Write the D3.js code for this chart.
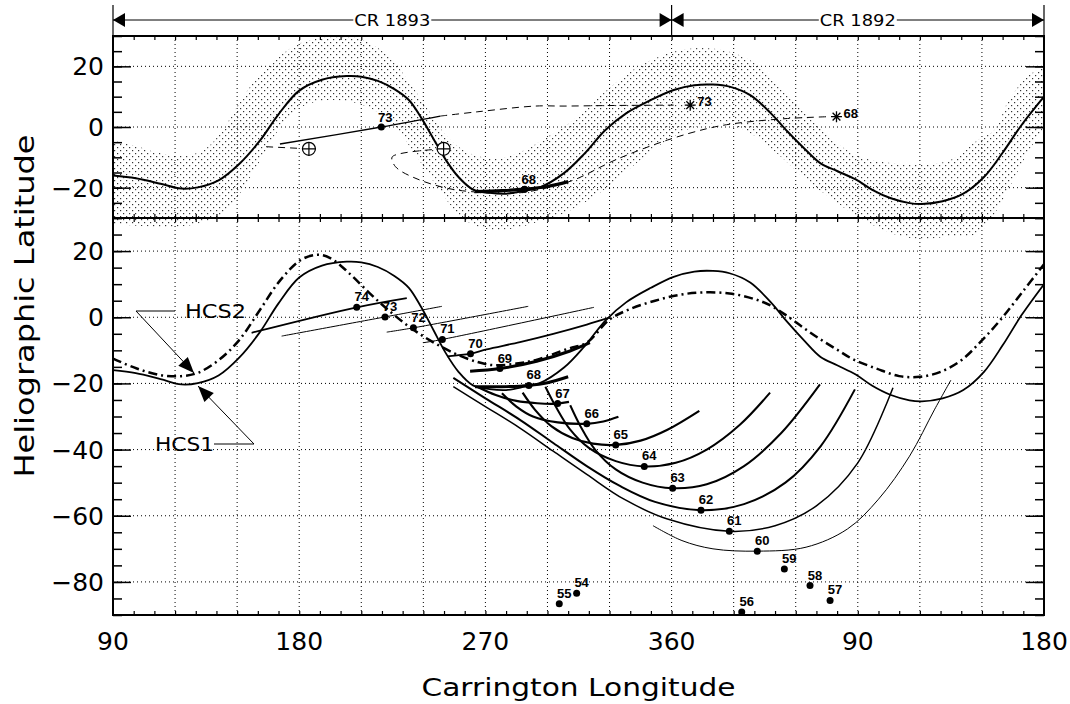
<!DOCTYPE html>
<html><head><meta charset="utf-8">
<script src="https://cdn.jsdelivr.net/npm/d3@7"></script>
<style>
body{margin:0;background:#fff}
text{font-family:"DejaVu Sans",sans-serif;fill:#000}
.num{font-family:"Liberation Sans",Arial,sans-serif;font-weight:bold;font-size:13px}
</style>
</head><body><script>
// longitude runs continuously 90..540 (CR 1893 then CR 1892)
var xTickVals = [90, 180, 270, 360, 450, 540];
var xTickText = ["90", "180", "270", "360", "90", "180"];
var topLatTicks = [20, 0, -20];
var botLatTicks = [20, 0, -20, -40, -60, -80];

// HCS1 (solid) – same trace used in both panels
var hcs1 = [[90,-16],[101,-16.9],[113,-18.7],[123,-20.3],[131,-19.9],[141,-17.6],[151,-12.2],[161,-4.5],[170,4.2],[180,12],[191,15.6],[203,16.8],[210,16.6],[218,15.2],[226,12.5],[233,8.9],[239,3],[245,-4],[251,-11],[257,-16.5],[264,-20.6],[272,-21.7],[280,-22],[289,-21],[296,-20],[308,-15.2],[318,-8.7],[328,-1],[338,4.5],[350,8.9],[361,12.2],[371,13.8],[380,14],[388,13.3],[398,10.5],[408,4.5],[416,-1.5],[424,-7],[432,-12],[440,-14.5],[449,-17.3],[457,-20.7],[466,-23.5],[475,-25.1],[481,-25.4],[491,-24.5],[501,-22],[511,-16.5],[520,-8.5],[529,0.5],[540,10]];
// HCS2 (dash-dot), lower panel
var hcs2 = [[90,-12.5],[101.5,-15.5],[113,-17.5],[123,-17.8],[131,-16.8],[141,-13],[151,-6.9],[161,2.2],[171,11.3],[181,17.4],[189,18.9],[195,17.9],[204,13.4],[214,7.3],[223,2.2],[233,-2.8],[243,-6.9],[255,-10.9],[266,-13.5],[274,-14.5],[285,-14],[295,-12.8],[310,-9.5],[319,-7.7],[330,-0.7],[340,2.5],[352,5],[364,6.8],[375,7.5],[388,7.2],[400,5.5],[408,3.5],[416,0.3],[424,-3.3],[432,-6.7],[440,-9.8],[448,-12.8],[459,-15.5],[470,-17.8],[480,-18],[490,-16.5],[500,-13],[510,-7],[520,0],[530,8],[540,16]];

// stippled uncertainty band, upper panel: [lon, upper, lower]
var bandUpper = [[90,-4.5],[100,-6],[112,-8.5],[125,-9.5],[135,-7],[143,-1],[151,8],[160,16.5],[170,23],[180,27.5],[192,29.5],[207,29.5],[217,26.5],[225,22],[233,15],[242,6],[250,-2],[258,-7],[266,-9.5],[276,-10.5],[289,-7.6],[298,-4],[308,0],[325,10],[341,18.7],[358,24.2],[371,26],[385,25.3],[398,22],[411,14.4],[425,4.5],[438,-4.3],[451,-9.8],[468,-12],[481,-12.5],[495,-10.8],[508,-4.3],[516,-1],[523,8.9],[532,16.6],[540,20]];
var bandLower = [[90,-32],[110,-33],[130,-32.5],[144,-28.4],[154,-19.6],[164,-7.6],[174,3.4],[184,8],[195,9],[207,8],[218,5],[228,-1],[236,-9],[244,-17],[252,-25],[260,-31],[270,-34],[282,-34],[292,-32],[308,-28.4],[325,-21.8],[341,-13],[358,-4.3],[371,0],[385,1.2],[398,-2.1],[411,-8.7],[425,-17.4],[438,-24],[451,-30],[465,-35],[480,-37],[495,-36],[509,-35],[519,-26],[528,-13],[536,-4.3],[540,0]];

// upper panel tracks
var track73 = [[170.7,-5.6],[219.7,0],[248.2,3.6]];
var dash73a = [[164,-6.5],[184.7,-7.2]];
var dash73b = [[248.2,3.6],[266,5],[294,6.9],[308,6.9],[333,7.1],[361,7.2]];
var dash68 = [[249.8,-7.2],[225,-9.8],[225.5,-12],[228,-14],[238,-17.4],[251.5,-20.2],[263,-21.3],[285,-21.8],[300,-20],[313,-17.4],[333,-10.8],[358,-4.3],[378,-0.4],[391,1.2],[416,2.8],[436,3.4]];
var thick68 = [[265,-21.3],[278,-21],[289,-20.5],[300,-19.6],[310,-18]];
var earthPts = [[184.7,-7.2],[249.8,-7.2]];
var starPts = [{label:"73",L:369,lat:7.2},{label:"68",L:439.7,lat:3.4}];
var topDots = [{label:"73",L:219.7,lat:0},{label:"68",L:289,lat:-20.5}];

// lower panel traces: [points, stroke width]
var botLines = [
  {pts:[[157,-4.7],[207.8,3.0],[232,5.8]], w:1.8},
  {pts:[[171.5,-5.7],[221.5,0.1],[249,3.3]], w:1},
  {pts:[[222.3,-4.5],[235.2,-3.2],[290.7,3.3]], w:1},
  {pts:[[240,-7.7],[249.2,-6.7],[322.5,3]], w:1},
  {pts:[[251.5,-11.8],[262.7,-11],[270.6,-9.7],[286.7,-7.5],[302.8,-5],[319,-2.2],[329.5,-0.2]], w:1.8},
  {pts:[[262.6,-16.3],[277,-15.5],[294.8,-13.3],[310.9,-10.2],[320.5,-7.7]], w:3},
  {pts:[[265,-21],[278,-21],[291,-20.6],[300,-19.8],[310,-18]], w:3},
  {pts:[[266,-21],[275,-23.5],[285,-25.3],[295,-26],[304.9,-26.1],[310.4,-25.6]], w:2.2},
  {pts:[[278,-23],[285,-27],[293,-30],[305,-31.8],[319,-32.2],[327,-31.5],[334.3,-30.1]], w:2.2},
  {pts:[[288,-22.8],[294,-28],[302,-33],[312,-36.5],[322,-38.2],[333,-38.6],[345,-37.3],[358,-34],[373.4,-28.3]], w:2.2},
  {pts:[[299,-21],[304,-27],[311,-34],[320,-39.5],[333,-43.5],[346.8,-45.1],[362,-44],[377,-40],[393,-32.5],[407.6,-22.8]], w:2},
  {pts:[[311,-26.6],[316,-33],[323,-40],[333,-46],[346,-50],[360.5,-51.7],[377,-50.5],[395,-45],[413,-35],[431.7,-20.3]], w:2},
  {pts:[[254.5,-18.3],[270,-24.5],[286.7,-31],[302.8,-38],[319,-45],[335,-51],[352,-55.8],[374.2,-58.3],[395,-56.5],[415,-50],[432,-39],[448.6,-21.8]], w:2},
  {pts:[[254.5,-21],[270,-27],[286.7,-33.5],[302.8,-40.5],[319,-47.5],[337,-55],[358,-61],[387.9,-64.7],[410,-63],[430,-57],[450,-44],[467,-21.3]], w:1.5},
  {pts:[[351,-63],[365,-67.5],[380,-70],[401.4,-70.7],[425,-69.5],[445,-64],[460,-55],[475,-42],[487,-28],[495,-19]], w:1}
];
var botDots = [
  {label:"74",L:207.8,lat:3.0},{label:"73",L:221.5,lat:0.1},{label:"72",L:235.2,lat:-3.2},
  {label:"71",L:249.2,lat:-6.7},{label:"70",L:262.8,lat:-11},{label:"69",L:277,lat:-15.5},
  {label:"68",L:291,lat:-20.6},{label:"67",L:304.9,lat:-26.1},{label:"66",L:319,lat:-32.2},
  {label:"65",L:333,lat:-38.6},{label:"64",L:346.8,lat:-45.1},{label:"63",L:360.5,lat:-51.7},
  {label:"62",L:374.2,lat:-58.3},{label:"61",L:387.9,lat:-64.7},{label:"60",L:401.4,lat:-70.7},
  {label:"59",L:414.5,lat:-76.1},{label:"58",L:426.9,lat:-81.1},{label:"57",L:436.6,lat:-85.6},
  {label:"56",L:393.9,lat:-89.1},{label:"55",L:305.7,lat:-86.6},{label:"54",L:314.1,lat:-83.4}
];

var W = 1070, H = 704;
var x = d3.scaleLinear().domain([90, 540]).range([113, 1044]);
var yTop = d3.scaleLinear().domain([-30, 30]).range([218, 36]);
var yBot = d3.scaleLinear().domain([-90, 30]).range([615, 218]);

var svg = d3.select("body").append("svg").attr("width", W).attr("height", H);

var pat = svg.append("defs").append("pattern").attr("id", "stip").attr("patternUnits", "userSpaceOnUse")
  .attr("width", 6).attr("height", 6);
[[0, 0], [3, 3]].forEach(function(p){
  pat.append("rect").attr("x", p[0]).attr("y", p[1]).attr("width", 1.2).attr("height", 1.2).attr("fill", "#333");
});

function lineFor(y) {
  return d3.line().x(function(d){ return x(d[0]); }).y(function(d){ return y(d[1]); })
    .curve(d3.curveCatmullRom.alpha(0.5));
}
var lt = lineFor(yTop), lb = lineFor(yBot);

// band (drawn unclipped, it spills into the lower panel)
var lowAt = d3.scaleLinear().domain(bandLower.map(function(e){ return e[0]; }))
  .range(bandLower.map(function(e){ return e[1]; }));
svg.append("path")
  .attr("d", d3.area().x(function(d){ return x(d[0]); })
    .y0(function(d){ return yTop(lowAt(d[0])); }).y1(function(d){ return yTop(d[1]); })
    .curve(d3.curveCatmullRom.alpha(0.5))(bandUpper))
  .attr("fill", "url(#stip)");

// grids
function grid(y, lats, y0, y1) {
  var g = svg.append("g").attr("stroke", "#000").attr("stroke-width", 1).attr("stroke-dasharray", "1,3");
  g.selectAll(".v").data(d3.range(120, 540, 30)).enter().append("line")
    .attr("x1", function(d){ return x(d); }).attr("x2", function(d){ return x(d); })
    .attr("y1", y0).attr("y2", y1);
  g.selectAll(".h").data(lats).enter().append("line")
    .attr("x1", x(90)).attr("x2", x(540))
    .attr("y1", function(d){ return y(d); }).attr("y2", function(d){ return y(d); });
}
grid(yTop, topLatTicks, 36, 218);
grid(yBot, botLatTicks, 218, 615);

// axes with inward ticks
function yAxes(y, lo, hi, major) {
  var minor = d3.range(lo, hi + 0.1, 5);
  [[d3.axisLeft, x(90)], [d3.axisRight, x(540)]].forEach(function(a){
    var g1 = svg.append("g").attr("transform", "translate(" + a[1] + ",0)")
      .call(a[0](y).tickValues(minor).tickSize(-9).tickFormat(""));
    var g2 = svg.append("g").attr("transform", "translate(" + a[1] + ",0)")
      .call(a[0](y).tickValues(major).tickSize(-18).tickFormat(""));
    [g1, g2].forEach(function(g){ g.select(".domain").remove(); g.selectAll("line").attr("stroke-width", 1.5); });
  });
}
yAxes(yTop, -30, 30, topLatTicks);
yAxes(yBot, -90, 30, botLatTicks);
function xAxes(yPos, dir) {
  var g = svg.append("g").attr("transform", "translate(0," + yPos + ")")
    .call((dir > 0 ? d3.axisTop : d3.axisBottom)(x).tickValues(d3.range(100, 540, 10)).tickSize(-4).tickFormat(""));
  g.select(".domain").remove();
  g.selectAll("line").attr("stroke-width", 1.2);
}
xAxes(36, 1); xAxes(218, -1); xAxes(218, 1); xAxes(615, -1);

// frames
svg.append("rect").attr("x", x(90)).attr("y", 36).attr("width", x(540) - x(90)).attr("height", 182)
  .attr("fill", "none").attr("stroke", "#000").attr("stroke-width", 2);
svg.append("rect").attr("x", x(90)).attr("y", 218).attr("width", x(540) - x(90)).attr("height", 397)
  .attr("fill", "none").attr("stroke", "#000").attr("stroke-width", 2);

// tick labels
function latText(d){ return d < 0 ? "\u2212" + (-d) : d; }
svg.append("g").selectAll("text").data(topLatTicks).enter().append("text")
  .attr("x", 104).attr("y", function(d){ return yTop(d) + 9; }).attr("text-anchor", "end")
  .attr("font-size", 25).text(latText);
svg.append("g").selectAll("text").data(botLatTicks).enter().append("text")
  .attr("x", 104).attr("y", function(d){ return yBot(d) + 9; }).attr("text-anchor", "end")
  .attr("font-size", 25).text(latText);
svg.append("g").selectAll("text").data(xTickVals).enter().append("text")
  .attr("x", function(d){ return x(d); }).attr("y", 650).attr("text-anchor", "middle")
  .attr("font-size", 25).text(function(d, i){ return xTickText[i]; });
svg.append("text").attr("x", (x(90) + x(540)) / 2).attr("y", 696).attr("text-anchor", "middle")
  .attr("font-size", 25).attr("textLength", 314).attr("lengthAdjust", "spacingAndGlyphs").text("Carrington Longitude");
svg.append("text").attr("transform", "translate(34,306) rotate(-90)").attr("text-anchor", "middle")
  .attr("font-size", 26).attr("textLength", 343).attr("lengthAdjust", "spacingAndGlyphs").text("Heliographic Latitude");

// CR header
function arrowHead(px, py, dir) {
  svg.append("path").attr("d", "M" + px + "," + py + "l" + (-12 * dir) + ",-7v14z").attr("fill", "#000");
}
[[x(90), x(360), "CR 1893"], [x(360), x(540), "CR 1892"]].forEach(function(s){
  svg.append("line").attr("x1", s[0]).attr("x2", s[1]).attr("y1", 20).attr("y2", 20).attr("stroke", "#000");
  arrowHead(s[0], 20, -1); arrowHead(s[1], 20, 1);
  var t = svg.append("text").attr("x", (s[0] + s[1]) / 2).attr("y", 26).attr("text-anchor", "middle")
    .attr("font-size", 16).attr("textLength", 76).attr("lengthAdjust", "spacingAndGlyphs").text(s[2]);
  var bb = t.node().getBBox();
  svg.insert("rect", function(){ return t.node(); }).attr("x", bb.x - 1).attr("y", bb.y).attr("width", bb.width + 2)
    .attr("height", bb.height).attr("fill", "#fff");
});
[90, 360, 540].forEach(function(d){
  svg.append("line").attr("x1", x(d)).attr("x2", x(d)).attr("y1", 5).attr("y2", 36).attr("stroke", "#000").attr("stroke-width", 1.2);
});

// upper panel
svg.append("path").attr("d", lt(hcs1)).attr("fill", "none").attr("stroke", "#000").attr("stroke-width", 2);
[dash73a, dash73b, dash68].forEach(function(p){
  svg.append("path").attr("d", lt(p)).attr("fill", "none").attr("stroke", "#000").attr("stroke-dasharray", "7,5");
});
svg.append("path").attr("d", lt(track73)).attr("fill", "none").attr("stroke", "#000").attr("stroke-width", 1.3);
svg.append("path").attr("d", lt(thick68)).attr("fill", "none").attr("stroke", "#000").attr("stroke-width", 3.2);
earthPts.forEach(function(p){
  var cx = x(p[0]), cy = yTop(p[1]);
  svg.append("circle").attr("cx", cx).attr("cy", cy).attr("r", 6.5).attr("fill", "#fff").attr("stroke", "#000").attr("stroke-width", 1.2);
  svg.append("path").attr("d", "M" + (cx - 6.5) + "," + cy + "h13M" + cx + "," + (cy - 6.5) + "v13").attr("stroke", "#000").attr("stroke-width", 1.2);
});
starPts.forEach(function(p){
  var cx = x(p.L), cy = yTop(p.lat), r = 5.5;
  var d = "";
  [0, 45, 90, 135].forEach(function(a){
    var dx = r * Math.cos(a * Math.PI / 180), dy = r * Math.sin(a * Math.PI / 180);
    d += "M" + (cx - dx) + "," + (cy - dy) + "L" + (cx + dx) + "," + (cy + dy);
  });
  svg.append("path").attr("d", d).attr("stroke", "#000").attr("stroke-width", 1.3);
  svg.append("text").attr("class", "num").attr("x", cx + 7).attr("y", cy + 1).text(p.label);
});
topDots.forEach(function(p){
  svg.append("circle").attr("cx", x(p.L)).attr("cy", yTop(p.lat)).attr("r", 3.5);
  svg.append("text").attr("class", "num").attr("x", x(p.L) + 4).attr("y", yTop(p.lat) - 5).attr("text-anchor", "middle").text(p.label);
});

// lower panel
svg.append("path").attr("d", lb(hcs1)).attr("fill", "none").attr("stroke", "#000").attr("stroke-width", 1.8);
svg.append("path").attr("d", lb(hcs2)).attr("fill", "none").attr("stroke", "#000").attr("stroke-width", 2.5)
  .attr("stroke-dasharray", "9,4,2,4");
botLines.forEach(function(l){
  svg.append("path").attr("d", lb(l.pts)).attr("fill", "none").attr("stroke", "#000").attr("stroke-width", l.w);
});
botDots.forEach(function(p){
  svg.append("circle").attr("cx", x(p.L)).attr("cy", yBot(p.lat)).attr("r", 3.5);
  svg.append("text").attr("class", "num").attr("x", x(p.L) + 5).attr("y", yBot(p.lat) - 6).attr("text-anchor", "middle").text(p.label);
});

// HCS annotations
function pointer(pts) {
  svg.append("path").attr("d", d3.line()(pts)).attr("fill", "none").attr("stroke", "#000").attr("stroke-width", 1);
  var a = pts[pts.length - 2], b = pts[pts.length - 1];
  var ang = Math.atan2(b[1] - a[1], b[0] - a[0]) * 180 / Math.PI;
  svg.append("path").attr("d", "M0,0L-16,-6.5L-16,6.5Z").attr("transform", "translate(" + b[0] + "," + b[1] + ") rotate(" + ang + ")");
}
pointer([[175, 311], [136, 311], [194, 373]]);
pointer([[214, 444], [254, 444], [198, 386]]);
svg.append("text").attr("x", 185).attr("y", 318).attr("font-size", 19).attr("textLength", 61).attr("lengthAdjust", "spacingAndGlyphs").text("HCS2");
svg.append("text").attr("x", 155).attr("y", 451).attr("font-size", 19).attr("textLength", 59).attr("lengthAdjust", "spacingAndGlyphs").text("HCS1");
</script></body></html>
